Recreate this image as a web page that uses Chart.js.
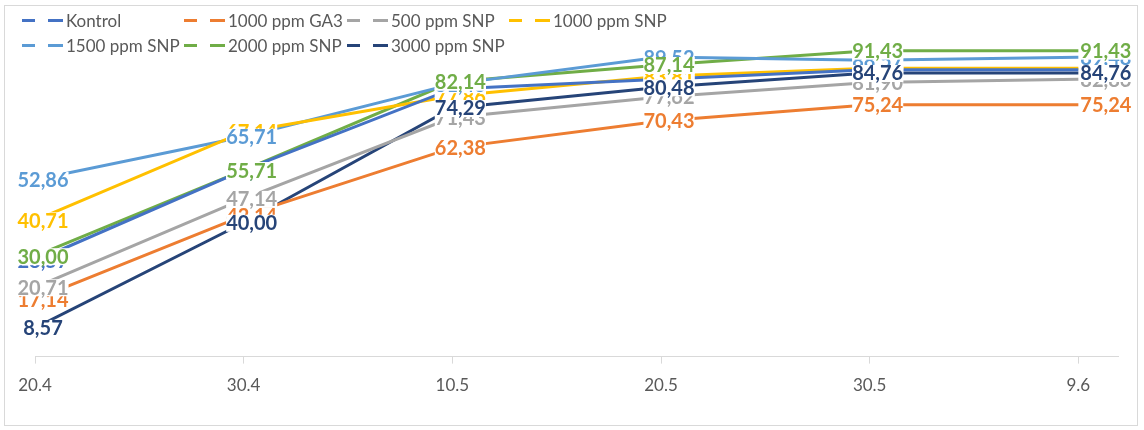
<!DOCTYPE html>
<html lang="tr">
<head>
  <meta charset="UTF-8">
  <title>Chart</title>
  <script src="https://cdn.jsdelivr.net/npm/chart.js"></script>
  <style>
    html, body { margin: 0; padding: 0; background: #fff; }
    .wrap { position: relative; width: 1144px; height: 430px; }
    .frame { position: absolute; left: 4px; top: 5px; width: 1132px; height: 419px; border: 1px solid #d9d9d9; pointer-events: none; }
    canvas { position: absolute; left: 0; top: 0; }
    .legend { position: absolute; left: 0; top: 0; font-family: Lato, sans-serif; font-size: 17px; color: #595959; }
    .item { position: absolute; display: flex; align-items: center; white-space: nowrap; height: 22px; }
    .mark { display: inline-block; height: 3px; }
  </style>
</head>
<body>
  <div class="wrap">
    <canvas id="chart" width="1144" height="430"></canvas>
    <div class="legend" id="legend"></div>
    <div class="frame"></div>
  </div>

  <script>
    const categories = ['20.4', '30.4', '10.5', '20.5', '30.5', '9.6'];

    const seriesNames = ['Kontrol', '1000 ppm GA3', '500 ppm SNP', '1000 ppm SNP', '1500 ppm SNP', '2000 ppm SNP', '3000 ppm SNP'];
    const seriesColors = ['#4472C4', '#ED7D31', '#A5A5A5', '#FFC000', '#5B9BD5', '#70AD47', '#264478'];

    const kontrol = [28.57, 55.71, 80.00, 82.86, 85.71, 85.71];
    const ga3_1000 = [17.14, 42.14, 62.38, 70.43, 75.24, 75.24];
    const snp_500 = [20.71, 47.14, 71.43, 77.62, 81.90, 82.86];
    const snp_1000 = [40.71, 67.14, 77.86, 83.81, 86.19, 86.19];
    const snp_1500 = [52.86, 65.71, 81.43, 89.52, 88.57, 89.48];
    const snp_2000 = [30.00, 55.71, 82.14, 87.14, 91.43, 91.43];
    const snp_3000 = [8.57, 40.00, 74.29, 80.48, 84.76, 84.76];

    const seriesValues = [kontrol, ga3_1000, snp_500, snp_1000, snp_1500, snp_2000, snp_3000];

    // legend: 4 columns, 2 rows
    const legendPos = [[22, 9], [184, 9], [347, 9], [509, 9], [22, 34], [184, 34], [347, 34]];
    const legendEl = document.getElementById('legend');
    seriesNames.forEach((name, i) => {
      const item = document.createElement('div');
      item.className = 'item';
      item.style.left = legendPos[i][0] + 'px';
      item.style.top = legendPos[i][1] + 'px';
      item.innerHTML =
        `<span class="mark" style="width:13px;background:${seriesColors[i]}"></span>` +
        `<span class="mark" style="width:15px;margin-left:13px;margin-right:3px;background:${seriesColors[i]}"></span>` +
        `<span>${name}</span>`;
      legendEl.appendChild(item);
    });

    // value labels with tight white boxes, drawn on top of all lines
    const valueLabels = {
      id: 'valueLabels',
      afterDatasetsDraw(chart) {
        const ctx = chart.ctx;
        ctx.save();
        ctx.font = 'bold 20px Lato, sans-serif';
        ctx.textBaseline = 'middle';
        chart.data.datasets.forEach((ds, di) => {
          const meta = chart.getDatasetMeta(di);
          meta.data.forEach((pt, i) => {
            const txt = ds.data[i].y.toFixed(2).replace('.', ',');
            const w = ctx.measureText(txt).width;
            const last = i === ds.data.length - 1;
            const x = last ? pt.x + 2 : pt.x - w / 2 + 8;
            ctx.fillStyle = '#fff';
            ctx.fillRect(x, pt.y - 8, w, 17);
            ctx.fillStyle = ds.borderColor;
            ctx.textAlign = 'left';
            ctx.fillText(txt, x, pt.y + 1);
          });
        });
        ctx.restore();
      }
    };

    new Chart(document.getElementById('chart'), {
      type: 'line',
      data: {
        datasets: seriesValues.map((vals, i) => ({
          label: seriesNames[i],
          data: vals.map((v, k) => ({ x: k, y: v })),
          borderColor: seriesColors[i],
          backgroundColor: seriesColors[i],
          borderWidth: 3,
          pointRadius: 0,
          tension: 0,
          fill: false
        }))
      },
      options: {
        responsive: false,
        animation: false,
        layout: { padding: { top: 22, left: 35, right: 26, bottom: 22 } },
        plugins: {
          legend: { display: false },
          tooltip: { enabled: false }
        },
        scales: {
          x: {
            type: 'linear',
            min: 0,
            max: 5.19,
            border: { color: '#d9d9d9', width: 1 },
            grid: { drawOnChartArea: false, color: '#d9d9d9', tickLength: 7 },
            ticks: {
              stepSize: 1,
              includeBounds: false,
              autoSkip: false,
              maxRotation: 0,
              padding: 12,
              color: '#595959',
              font: { family: 'Lato', size: 17 },
              callback: (v) => categories[v] !== undefined ? categories[v] : ''
            }
          },
          y: {
            display: false,
            min: 0,
            max: 100
          }
        }
      },
      plugins: [valueLabels]
    });
  </script>
</body>
</html>
